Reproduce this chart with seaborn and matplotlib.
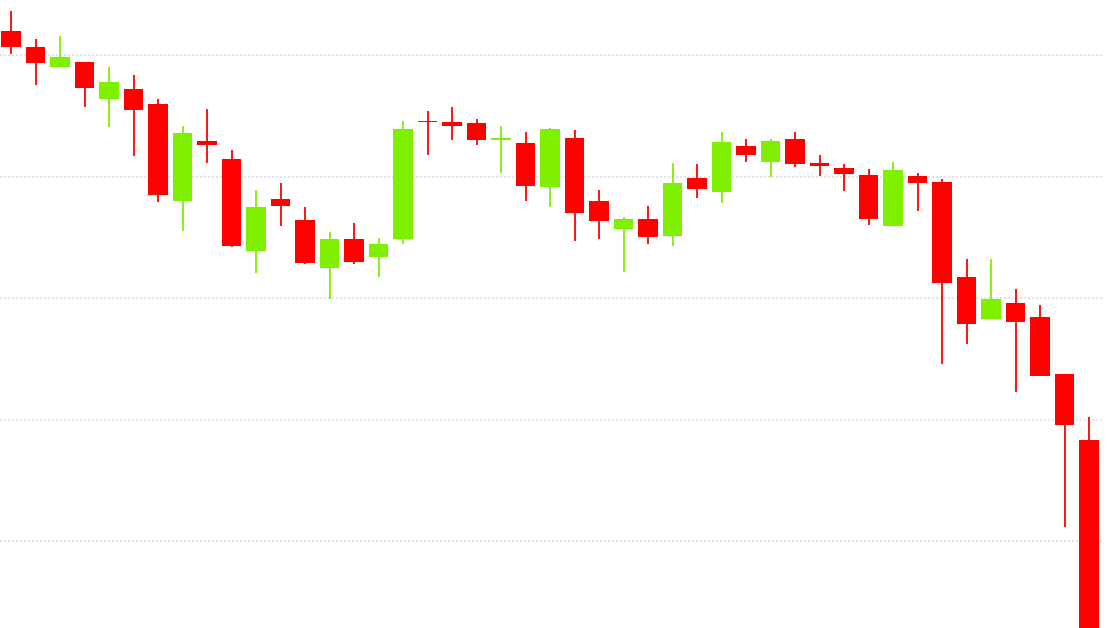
import numpy as np
import pandas as pd
import matplotlib
matplotlib.use("Agg")
import matplotlib.pyplot as plt
import seaborn as sns

opens = [519.8, 506.6, 490.1, 494.2, 463.8, 472.0, 459.7, 379.8, 429.2, 414.4,
         338.7, 381.5, 364.2, 324.7, 348.6, 333.8, 348.6, 444.9, 444.9, 444.0,
         430.0, 427.6, 391.4, 431.7, 379.8, 356.8, 365.0, 351.0, 398.8, 387.2,
         425.1, 411.9, 430.9, 411.1, 407.0, 401.2, 359.3, 400.4, 395.5, 317.3,
         282.7, 295.9, 284.4, 237.5, 183.1]
closes = [506.6, 493.4, 498.4, 472.8, 477.8, 454.7, 384.8, 435.8, 425.9, 342.8,
          374.9, 375.7, 328.8, 348.6, 329.6, 344.5, 439.1, 444.9, 441.6, 430.0,
          431.7, 392.2, 439.1, 370.0, 363.4, 365.0, 350.2, 394.7, 389.7, 428.4,
          417.7, 429.2, 410.3, 408.6, 402.1, 365.0, 405.4, 394.7, 312.4, 278.6,
          299.2, 280.3, 235.8, 195.5, -30.0]
highs = [536.2, 513.2, 515.6, 494.2, 490.1, 483.5, 463.8, 441.6, 455.6, 421.8,
         388.9, 394.7, 374.9, 354.3, 361.7, 349.4, 445.7, 453.9, 457.2, 447.3,
         441.6, 436.6, 439.9, 438.3, 388.9, 366.7, 375.7, 411.1, 410.3, 436.6,
         430.9, 430.9, 436.6, 417.7, 410.3, 406.2, 411.9, 402.9, 398.0, 332.1,
         332.1, 307.4, 294.3, 237.5, 202.1]
lows = [500.8, 475.3, 490.1, 457.2, 440.7, 416.9, 379.0, 355.2, 411.1, 341.9,
        320.6, 359.3, 328.0, 299.2, 328.0, 317.3, 344.5, 417.7, 430.0, 425.9,
        402.9, 379.8, 374.9, 346.9, 348.6, 321.4, 344.5, 342.8, 382.3, 378.2,
        411.9, 399.6, 407.8, 400.4, 388.1, 360.1, 359.3, 371.6, 245.7, 262.2,
        282.7, 222.6, 235.8, 111.6, -40.0]
grid_levels = [500, 400, 300, 200, 100]

df = pd.DataFrame({"open": opens, "close": closes, "high": highs, "low": lows})
df["idx"] = np.arange(len(df))
df["up"] = df["close"] > df["open"]

UP = "#7ff000"
DOWN = "#ff0000"

sns.set_style("white")
fig = plt.figure(figsize=(11.11, 6.28), dpi=100)
ax = fig.add_axes([0, 0, 1102 / 1111, 1])

colors = [UP if u else DOWN for u in df["up"]]
ax.vlines(df["idx"], df["low"], df["high"], colors=colors, linewidth=1.3, zorder=2)
bottoms = df[["open", "close"]].min(axis=1)
heights = (df["open"] - df["close"]).abs().clip(lower=0.7)
ax.bar(df["idx"], heights, bottom=bottoms, width=0.78, color=colors,
       edgecolor="none", zorder=3)

for g in grid_levels:
    ax.axhline(g, color="#d9def2", linewidth=1.2, linestyle=(0, (1.2, 1.2)), zorder=1)

ax.set_xlim(-0.449, 44.53)
ax.set_ylim(28.4, 545.3)
ax.set_xticks([])
ax.set_yticks([])
for s in ax.spines.values():
    s.set_visible(False)

fig.savefig("out.png", dpi=100)
